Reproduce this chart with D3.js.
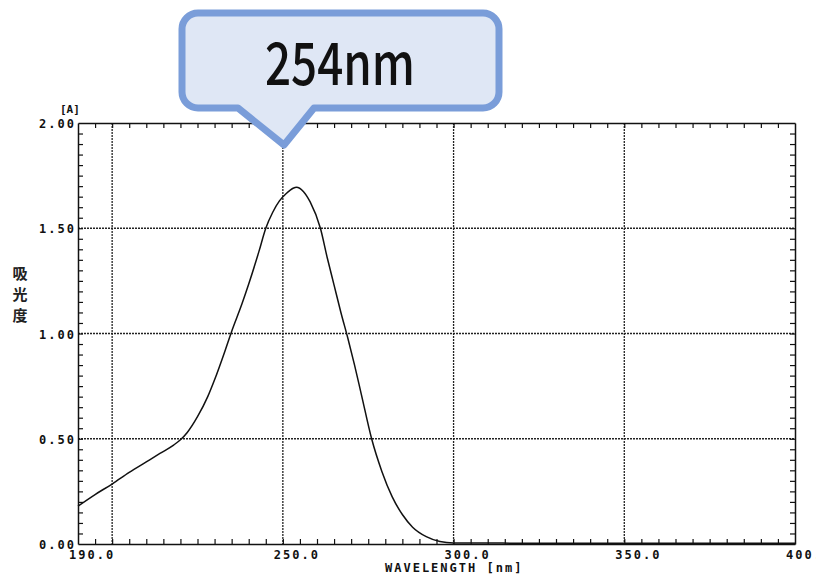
<!DOCTYPE html>
<html>
<head>
<meta charset="utf-8">
<script src="https://cdn.jsdelivr.net/npm/d3@7"></script>
<style>
    body { margin: 0; background: #fff; }
    .mono { font-family: "DejaVu Sans Mono", monospace; font-weight: bold; font-size: 12px; letter-spacing: 2px; fill: #111; }
</style>
</head>
<body>
<div id="chart"></div>
<script>
// Spectrum (nm, absorbance)
const wavelength = [190, 195, 200, 205, 210, 214, 218, 220, 222, 225, 228, 230, 233, 235, 238, 240, 243, 245, 247, 249,
    251, 253, 254, 256, 258, 261, 263, 265, 267, 269, 271, 273, 276, 279, 282, 285, 288, 292, 296, 300, 320, 350, 380, 400];
const absorbance = [0.18, 0.235, 0.285, 0.34, 0.39, 0.43, 0.47, 0.495, 0.53, 0.605, 0.70, 0.78, 0.915, 1.01, 1.14, 1.235, 1.39, 1.50, 1.575, 1.63,
    1.665, 1.69, 1.695, 1.675, 1.625, 1.50, 1.36, 1.23, 1.10, 0.98, 0.85, 0.71, 0.50, 0.345, 0.225, 0.14, 0.08, 0.035, 0.012, 0.005, 0.004, 0.003, 0.003, 0.003];

const xTickValues = [190, 250, 300, 350, 400];
const xTickLabels = ["190.0", "250.0", "300.0", "350.0", "400.0"];
const xGrid = [200, 250, 300, 350];
const yTickValues = [0, 0.5, 1.0, 1.5, 2.0];
const yTickLabels = ["0.00", "0.50", "1.00", "1.50", "2.00"];
const yGrid = [0.5, 1.0, 1.5];
const calloutText = "254nm";

const width = 816;
const height = 576;
const plot = { left: 78, right: 795, top: 123, bottom: 544 };

const svg = d3.select("#chart")
    .append("svg")
    .attr("width", width)
    .attr("height", height);

const x = d3.scaleLinear().domain([190, 400]).range([plot.left, plot.right]);
const y = d3.scaleLinear().domain([0, 2]).range([plot.bottom, plot.top]);

// dotted grid
svg.append("g")
    .selectAll("line")
    .data(xGrid)
    .enter().append("line")
    .attr("x1", d => x(d)).attr("x2", d => x(d))
    .attr("y1", plot.top).attr("y2", plot.bottom)
    .attr("stroke", "#222")
    .attr("stroke-width", 1.3)
    .attr("stroke-dasharray", "2,1");

svg.append("g")
    .selectAll("line")
    .data(yGrid)
    .enter().append("line")
    .attr("x1", plot.left).attr("x2", plot.right)
    .attr("y1", d => y(d)).attr("y2", d => y(d))
    .attr("stroke", "#222")
    .attr("stroke-width", 1.6)
    .attr("stroke-dasharray", "2,1");

// frame with small inward ticks
const minorX = d3.range(195, 400, 5);
const minorY = d3.range(0.05, 2, 0.05);

const axisStyle = g => {
    g.select(".domain").attr("stroke", "#111").attr("stroke-width", 1.5);
    g.selectAll(".tick line").attr("stroke", "#111").attr("stroke-width", 1.2);
};

svg.append("g")
    .attr("transform", `translate(0,${plot.bottom})`)
    .call(d3.axisBottom(x).tickValues(minorX).tickSize(-5).tickSizeOuter(0).tickFormat(""))
    .call(axisStyle);
svg.append("g")
    .attr("transform", `translate(0,${plot.top})`)
    .call(d3.axisTop(x).tickValues(minorX).tickSize(-5).tickSizeOuter(0).tickFormat(""))
    .call(axisStyle);
svg.append("g")
    .attr("transform", `translate(${plot.left},0)`)
    .call(d3.axisLeft(y).tickValues(minorY).tickSize(-5).tickSizeOuter(0).tickFormat(""))
    .call(axisStyle);
svg.append("g")
    .attr("transform", `translate(${plot.right},0)`)
    .call(d3.axisRight(y).tickValues(minorY).tickSize(-5).tickSizeOuter(0).tickFormat(""))
    .call(axisStyle);

// tick labels
svg.append("g")
    .selectAll("text")
    .data(xTickValues)
    .enter().append("text")
    .attr("class", "mono")
    .attr("x", d => x(d) - 9)
    .attr("y", plot.bottom + 15)
    .text((d, i) => xTickLabels[i]);

svg.append("g")
    .selectAll("text")
    .data(yTickValues)
    .enter().append("text")
    .attr("class", "mono")
    .attr("text-anchor", "end")
    .attr("x", plot.left - 2)
    .attr("y", d => y(d) + 5)
    .text((d, i) => yTickLabels[i]);

svg.append("text")
    .attr("class", "mono")
    .attr("x", 60)
    .attr("y", 113)
    .style("letter-spacing", "0px")
    .style("font-size", "11px")
    .text("[A]");

svg.append("text")
    .attr("class", "mono")
    .attr("x", 385)
    .attr("y", 572)
    .text("WAVELENGTH [nm]");

// vertical 吸光度
svg.append("g")
    .selectAll("text")
    .data(["吸", "光", "度"])
    .enter().append("text")
    .attr("x", 20)
    .attr("y", (d, i) => 279 + i * 21)
    .attr("text-anchor", "middle")
    .style("font-family", "'Noto Sans CJK JP', sans-serif")
    .style("font-weight", "bold")
    .style("font-size", "15px")
    .attr("fill", "#222")
    .text(d => d);

// spectrum line
const line = d3.line()
    .x((d, i) => x(wavelength[i]))
    .y(d => y(d))
    .curve(d3.curveMonotoneX);

svg.append("path")
    .datum(absorbance)
    .attr("fill", "none")
    .attr("stroke", "#111")
    .attr("stroke-width", 1.5)
    .attr("d", line);

// callout bubble pointing at the peak
const bx0 = 182, bx1 = 499, by0 = 13, by1 = 108, r = 16;
const tipX = 284, tipY = 145, baseL = 238, baseR = 314;
const bubble = d3.path();
bubble.moveTo(bx0 + r, by0);
bubble.lineTo(bx1 - r, by0);
bubble.arcTo(bx1, by0, bx1, by0 + r, r);
bubble.lineTo(bx1, by1 - r);
bubble.arcTo(bx1, by1, bx1 - r, by1, r);
bubble.lineTo(baseR, by1);
bubble.lineTo(tipX, tipY);
bubble.lineTo(baseL, by1);
bubble.lineTo(bx0 + r, by1);
bubble.arcTo(bx0, by1, bx0, by1 - r, r);
bubble.lineTo(bx0, by0 + r);
bubble.arcTo(bx0, by0, bx0 + r, by0, r);
bubble.closePath();

svg.append("path")
    .attr("d", bubble.toString())
    .attr("fill", "#dfe7f5")
    .attr("stroke", "#7a9dd9")
    .attr("stroke-width", 7)
    .attr("stroke-linejoin", "round");

svg.append("text")
    .attr("x", 265)
    .attr("y", 85)
    .attr("textLength", 150)
    .attr("lengthAdjust", "spacingAndGlyphs")
    .style("font-family", "'Noto Sans CJK JP', sans-serif")
    .style("font-weight", "500")
    .style("font-size", "58px")
    .attr("fill", "#111")
    .text(calloutText);
</script>
</body>
</html>
